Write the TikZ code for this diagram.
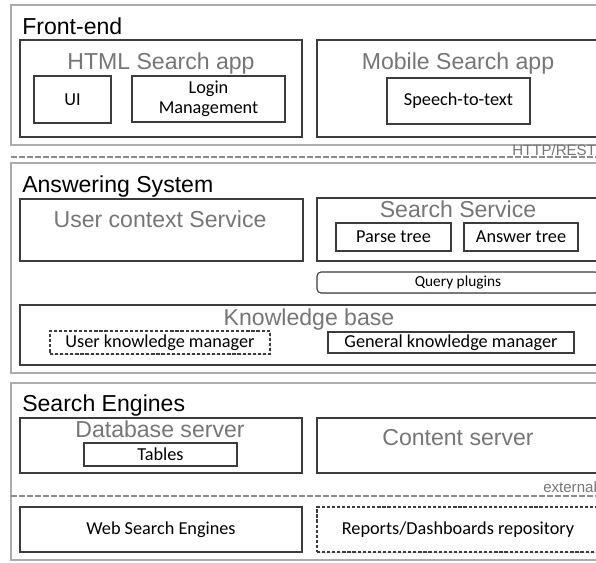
\documentclass[tikz,border=0pt]{standalone}
\usepackage{fontspec}
\setmainfont{Carlito}
\newfontfamily\helv{Liberation Sans}
\usetikzlibrary{fit,shadows}
\definecolor{outerc}{RGB}{172,172,172}
\definecolor{innerc}{RGB}{60,60,60}
\definecolor{titlegray}{RGB}{118,118,118}
\definecolor{dashc}{RGB}{140,140,140}
\tikzset{
  outerbox/.style={draw=outerc, line width=1.1pt, inner sep=0pt},
  groupbox/.style={draw=innerc, line width=0.8pt, inner sep=0pt, fill=white,
    drop shadow={shadow xshift=0.7pt, shadow yshift=-0.7pt, opacity=0.3}},
  dashbox/.style={groupbox, dashed, dash pattern=on 2.4pt off 1.4pt},
  itemtext/.style={font=\fontsize{13.7}{15}\selectfont, align=center, inner sep=0pt},
  maintitle/.style={font=\helv\fontsize{17.3}{19}\selectfont, anchor=base west, inner sep=0pt},
  subtitle/.style={font=\helv\fontsize{17.3}{19}\selectfont, text=titlegray, anchor=base, inner sep=0pt},
  smalllabel/.style={font=\helv\fontsize{11.3}{13}\selectfont, text=titlegray, anchor=base west, inner sep=0pt},
  sepline/.style={draw=dashc, line width=2.1pt, dash pattern=on 4.5pt off 1.5pt},
}
\begin{document}
\begin{tikzpicture}[x=0.75pt,y=-0.75pt]
\clip (0,0) rectangle (596,562);
\fill[white] (0,0) rectangle (596,562);

% Front-end
\node[outerbox, fit={(11,5) (605,145)}] (fe) {};
\node[maintitle] (fet) at (22,34) {Front-end};
\node[groupbox, fit={(20,40) (302,137)}] (html) {};
\node[subtitle] (htmlt) at (161,69) {HTML Search app};
\node[groupbox, fit={(34,76) (111,123)}] (ui) {};
\node[itemtext] (uit) at (ui.center) {UI};
\node[groupbox, fit={(132,76) (285,122)}] (login) {};
\node[itemtext] (logint) at (login.center) {Login\\Management};
\node[groupbox, fit={(317,40) (610,137)}] (mob) {};
\node[subtitle] (mobt) at (458,69) {Mobile Search app};
\node[groupbox, fit={(387,78) (530,124)}] (speech) {};
\node[itemtext] (speecht) at (speech.center) {Speech-to-text};

\coordinate (d1a) at (11,157);
\coordinate (d1b) at (600,157);
\draw[sepline] (d1a) -- (d1b);
\node[smalllabel] (http) at (512,155.5) {HTTP/REST};

% Answering system
\node[outerbox, fit={(11,163) (605,373)}] (as) {};
\node[maintitle] (ast) at (22,192) {Answering System};
\node[groupbox, fit={(20,199) (303,261)}] (uc) {};
\node[subtitle] (uct) at (160,227) {User context Service};
\node[groupbox, fit={(317,198) (610,261)}] (ss) {};
\node[subtitle] (sst) at (458,217.5) {Search Service};
\node[groupbox, fit={(336,223) (451,251)}] (parse) {};
\node[itemtext] (parset) at (parse.center) {Parse tree};
\node[groupbox, fit={(464,223) (578,251)}] (answer) {};
\node[itemtext] (answert) at (answer.center) {Answer tree};
\node[groupbox, rounded corners=3pt, fit={(317,272) (599,293)}] (qp) {};
\node[itemtext, font=\fontsize{11.5}{13}\selectfont] (qpt) at (qp.center) {Query plugins};
\node[groupbox, fit={(20,305) (610,365)}] (kb) {};
\node[subtitle] (kbt) at (309,325) {Knowledge base};
\node[dashbox, fit={(50,331) (270,354)}] (ukm) {};
\node[itemtext] (ukmt) at (ukm.center) {User knowledge manager};
\node[groupbox, fit={(328,332) (574,353)}] (gkm) {};
\node[itemtext] (gkmt) at (gkm.center) {General knowledge manager};

% Search engines
\node[outerbox, fit={(11,383) (605,560)}] (se) {};
\node[maintitle] (set) at (22,411) {Search Engines};
\node[groupbox, fit={(20,418) (302,473)}] (db) {};
\node[subtitle] (dbt) at (160,437) {Database server};
\node[groupbox, fit={(84,443) (237,466)}] (tables) {};
\node[itemtext] (tablest) at (tables.center) {Tables};
\node[groupbox, fit={(317,418) (610,473)}] (cs) {};
\node[subtitle] (cst) at (458,445.5) {Content server};

\coordinate (d2a) at (11,496);
\coordinate (d2b) at (600,496);
\draw[sepline] (d2a) -- (d2b);
\node[smalllabel] (ext) at (543,492) {external};

\node[groupbox, fit={(20,507) (302,552)}] (web) {};
\node[itemtext] (webt) at (web.center) {Web Search Engines};
\node[dashbox, fit={(317,507) (610,552)}] (rep) {};
\node[itemtext] (rept) at (458,529.5) {Reports/Dashboards repository};
\end{tikzpicture}
\end{document}
